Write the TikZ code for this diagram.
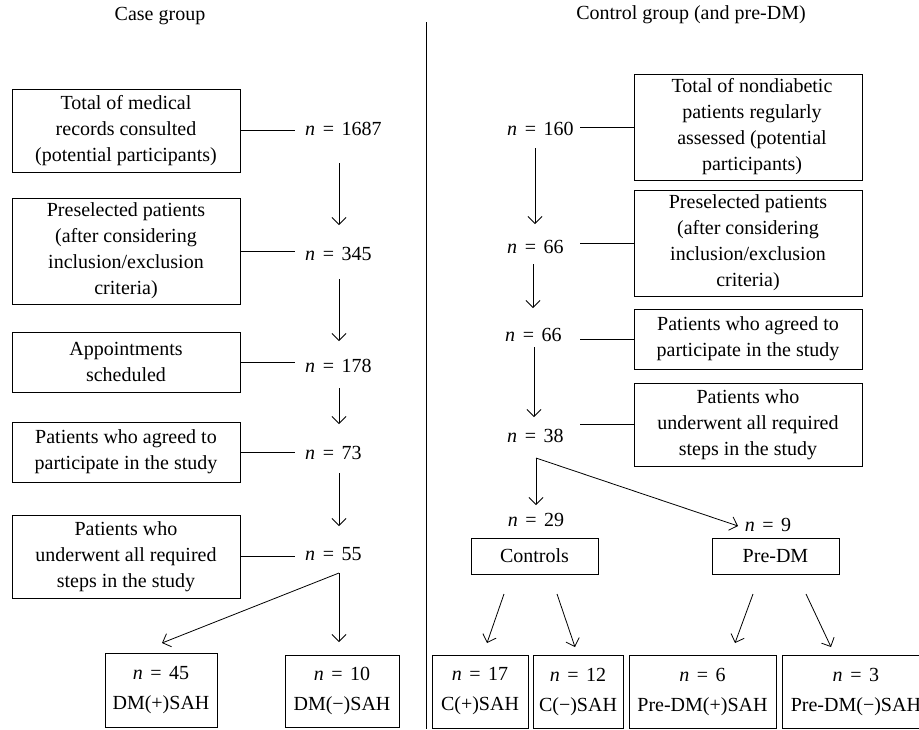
\documentclass[tikz,border=0pt]{standalone}
\usepackage{fontspec}
\setmainfont{Liberation Serif}
\usetikzlibrary{arrows.meta}
\newcommand{\nn}[1]{\textit{n}\hspace{0.38em}=\hspace{0.38em}#1}
\begin{document}
\begin{tikzpicture}[x=1pt,y=-1pt,
  font=\fontsize{20}{26}\selectfont,
  box/.style={draw, line width=0.8pt, align=center, inner sep=1pt},
  nl/.style={inner sep=0pt, anchor=west},
  ttl/.style={inner sep=0pt},
  arr/.style={-{Straight Barb[length=7pt,width=14pt]}, line width=0.8pt},
  ln/.style={line width=0.8pt}]
\useasboundingbox (0,0) rectangle (919,729);
\clip (0,0) rectangle (919,729);
% titles and divider
\node[ttl] (t1) at (160,16) {Case group};
\node[ttl] (t2) at (691,15) {Control group (and pre-DM)};
\coordinate (d1) at (426,22);
\coordinate (d2) at (426,729);
\draw[ln] (d1) -- (d2);
% left boxes
\node[box, minimum width=228pt, minimum height=83pt] (b1) at (126,130.5) {Total of medical\\records consulted\\(potential participants)};
\node[box, minimum width=228pt, minimum height=106pt] (b2) at (126,251) {Preselected patients\\(after considering\\inclusion/exclusion\\criteria)};
\node[box, minimum width=228pt, minimum height=60pt] (b3) at (126,362) {Appointments\\scheduled};
\node[box, minimum width=228pt, minimum height=60pt] (b4) at (126,452) {Patients who agreed to\\participate in the study};
\node[box, minimum width=228pt, minimum height=83pt] (b5) at (126,556.5) {Patients who\\underwent all required\\steps in the study};
% left n labels
\node[nl] (n1) at (305,129) {\nn{1687}};
\node[nl] (n2) at (305,254) {\nn{345}};
\node[nl] (n3) at (305,366) {\nn{178}};
\node[nl] (n4) at (305,453) {\nn{73}};
\node[nl] (n5) at (305,554) {\nn{55}};
\foreach \b/\n in {b1/n1,b2/n2,b3/n3,b4/n4,b5/n5}
  \draw[ln, shorten >=10pt] (\b.east) -- (\b.east -| \n.west);
% left arrows
\coordinate (a1s) at (339,163); \coordinate (a1e) at (339,225);
\coordinate (a2s) at (339,279); \coordinate (a2e) at (339,341);
\coordinate (a3s) at (339,388); \coordinate (a3e) at (339,424);
\coordinate (a4s) at (339,473); \coordinate (a4e) at (339,526);
\draw[arr] (a1s) -- (a1e);
\draw[arr] (a2s) -- (a2e);
\draw[arr] (a3s) -- (a3e);
\draw[arr] (a4s) -- (a4e);
\coordinate (s1) at (339,573);
\coordinate (s1a) at (339,642);
\coordinate (s1b) at (162,643);
\draw[arr] (s1) -- (s1a);
\draw[arr] (s1) -- (s1b);
% left bottom boxes
\node[box, minimum width=112pt, minimum height=74pt] (dp) at (161,690) {\nn{45}\\[4pt]DM(+)SAH};
\node[box, minimum width=114pt, minimum height=72pt] (dm) at (342,691) {\nn{10}\\[4pt]DM(−)SAH};
% right boxes
\node[box, minimum width=228pt, minimum height=106pt] (r1) at (748,127) {\hspace*{8pt}Total of nondiabetic\\\hspace*{8pt}patients regularly\\\hspace*{8pt}assessed (potential\\\hspace*{8pt}participants)};
\node[box, minimum width=228pt, minimum height=106pt] (r2) at (748,243) {Preselected patients\\(after considering\\inclusion/exclusion\\criteria)};
\node[box, minimum width=228pt, minimum height=60pt] (r3) at (748,339) {Patients who agreed to\\participate in the study};
\node[box, minimum width=228pt, minimum height=83pt] (r4) at (748,424.5) {Patients who\\underwent all required\\steps in the study};
% right n labels
\node[nl] (m1) at (507,129) {\nn{160}};
\node[nl] (m2) at (507,247) {\nn{66}};
\node[nl] (m3) at (505,335) {\nn{66}};
\node[nl] (m4) at (507,436) {\nn{38}};
\draw[ln] (r1.west) -- ++(-54,0);
\draw[ln] (r2.west) -- ++(-54,0);
\draw[ln] (r3.west) -- ++(-54,0);
\draw[ln] (r4.west) -- ++(-54,0);
% right arrows
\coordinate (c1s) at (535,148); \coordinate (c1e) at (535,224);
\coordinate (c2s) at (533,264); \coordinate (c2e) at (533,308);
\coordinate (c3s) at (534,347); \coordinate (c3e) at (534,417);
\draw[arr] (c1s) -- (c1e);
\draw[arr] (c2s) -- (c2e);
\draw[arr] (c3s) -- (c3e);
\coordinate (s2) at (536,458);
\coordinate (s2a) at (536,505);
\coordinate (s2b) at (738,526);
\draw[arr] (s2) -- (s2a);
\draw[arr] (s2) -- (s2b);
\node[ttl] (m5) at (536,520) {\nn{29}};
\node[ttl] (m6) at (768,525) {\nn{9}};
\node[box, minimum width=127pt, minimum height=36pt] (ctl) at (534.5,556) {Controls};
\node[box, minimum width=127pt, minimum height=36pt] (pre) at (775.5,556) {Pre-DM};
% bottom arrows
\coordinate (e1s) at (504,594); \coordinate (e1e) at (487,643);
\coordinate (e2s) at (557,594); \coordinate (e2e) at (575,647);
\coordinate (e3s) at (753,594); \coordinate (e3e) at (735,643);
\coordinate (e4s) at (806,594); \coordinate (e4e) at (831,647);
\draw[arr] (e1s) -- (e1e);
\draw[arr] (e2s) -- (e2e);
\draw[arr] (e3s) -- (e3e);
\draw[arr] (e4s) -- (e4e);
% right bottom boxes
\node[box, minimum width=96pt, minimum height=73pt] (cp) at (480,691.5) {\nn{17}\\[4pt]C(+)SAH};
\node[box, minimum width=90pt, minimum height=73pt] (cm) at (578,691.5) {\nn{12}\\[4pt]C(−)SAH};
\node[box, minimum width=147pt, minimum height=73pt] (pp) at (702.5,691.5) {\nn{6}\\[4pt]Pre-DM(+)SAH};
\node[box, minimum width=147pt, minimum height=73pt, anchor=west] (pm) at (782,691.5) {\nn{3}\\[4pt]Pre-DM(−)SAH};
\end{tikzpicture}
\end{document}
